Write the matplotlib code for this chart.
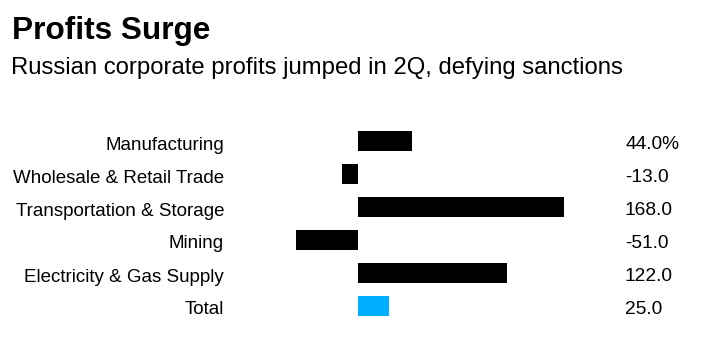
import matplotlib.pyplot as plt
from matplotlib.transforms import blended_transform_factory

### DATA ###
categories = ["Manufacturing", "Wholesale & Retail Trade", "Transportation & Storage",
              "Mining", "Electricity & Gas Supply", "Total"]
values = [44.0, -13.0, 168.0, -51.0, 122.0, 25.0]
value_labels = ["44.0%", "-13.0", "168.0", "-51.0", "122.0", "25.0"]
bar_colors = ["#000000"] * 5 + ["#00aeff"]

W, H = 712, 354
ROW_PX = 33
plt.rcParams["font.family"] = ["Liberation Sans", "DejaVu Sans"]

fig = plt.figure(figsize=(W / 100, H / 100), dpi=100)

# axes in pixel space: zero line at x~358, ~1.222 px per unit
x0, x1 = 280, 600
zero_px, scale = 358.3, 1.222
top, bottom = 124.5, 322.5
ax = fig.add_axes([x0 / W, 1 - bottom / H, (x1 - x0) / W, (bottom - top) / H])
ax.set_xlim(-(zero_px - x0) / scale, (x1 - zero_px) / scale)
ax.set_ylim(len(categories) - 0.5, -0.5)
ax.axis("off")

ypos = list(range(len(categories)))
ax.barh(ypos, values, height=0.59, color=bar_colors)

trans = blended_transform_factory(fig.transFigure, ax.transData)
for y, cat, lab in zip(ypos, categories, value_labels):
    # baselines sit ~8px below the bar centre
    ax.text(224 / W, y + 8.5 / ROW_PX, cat, transform=trans, ha="right", va="baseline", fontsize=13.5)
    ax.text(625 / W, y + 8.3 / ROW_PX, lab, transform=trans, ha="left", va="baseline", fontsize=13.8)

fig.text(12 / W, 1 - 39 / H, "Profits Surge", fontsize=22.8, fontweight="bold", ha="left", va="baseline")
fig.text(11 / W, 1 - 74 / H, "Russian corporate profits jumped in 2Q, defying sanctions",
         fontsize=17.2, ha="left", va="baseline")

fig.savefig("out.png", dpi=100, facecolor="white")
